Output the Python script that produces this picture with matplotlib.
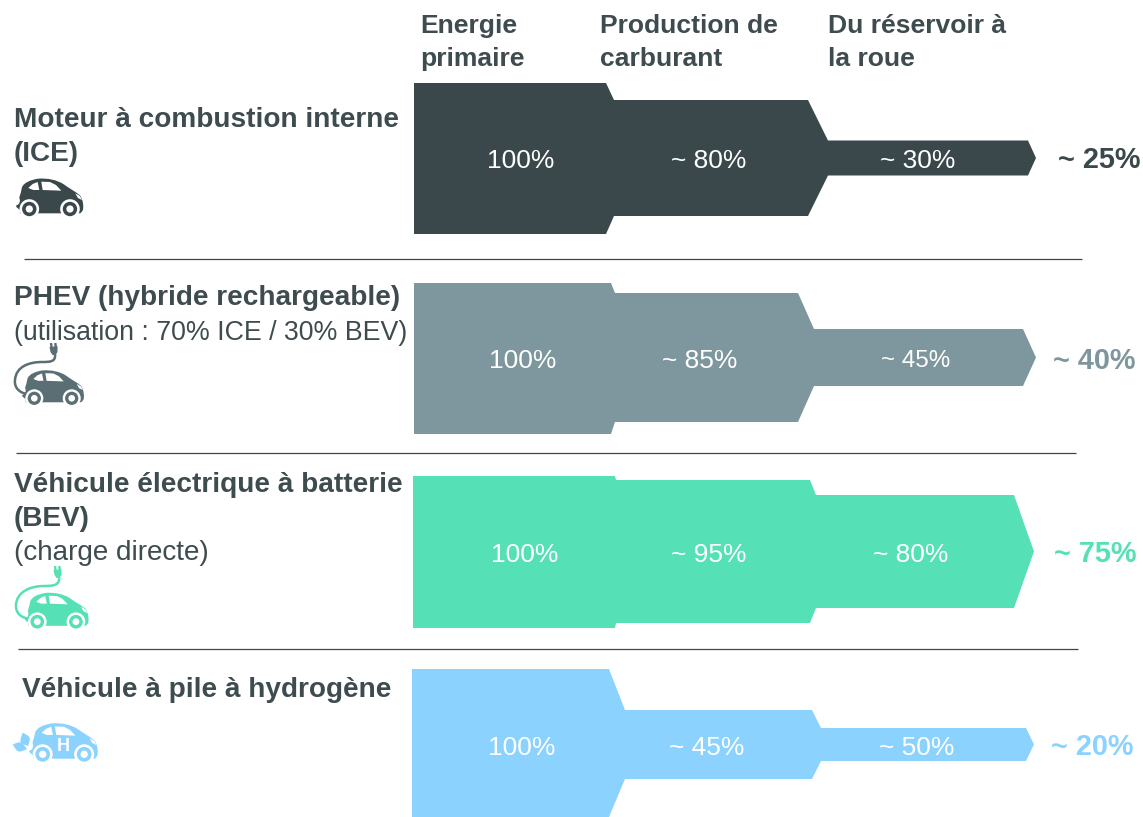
import matplotlib
matplotlib.use("Agg")
import matplotlib.pyplot as plt
from matplotlib.path import Path
from matplotlib.patches import PathPatch, Polygon, Circle

plt.rcParams['font.family'] = ['Liberation Sans', 'DejaVu Sans']

# ---- data ----
stages = ["Energie\nprimaire", "Production de\ncarburant", "Du réservoir à\nla roue"]
primary_labels = ["100%", "100%", "100%", "100%"]
fuel_labels = ["~ 80%", "~ 85%", "~ 95%", "~ 45%"]
tank_labels = ["~ 30%", "~ 45%", "~ 80%", "~ 50%"]
total_labels = ["~ 25%", "~ 40%", "~ 75%", "~ 20%"]
colors = ["#3A484B", "#7E979E", "#56E0B5", "#8CD2FF"]

# drawn band heights of each stage, as fractions of the first stage
fuel_share = [116 / 151, 129 / 151, 143 / 152, 69 / 148]
tank_share = [35 / 151, 57 / 151, 113 / 152, 33 / 148]

# ---- layout (pixels) ----
W, H = 1143, 817
fig = plt.figure(figsize=(W / 100, H / 100), dpi=100)
ax = fig.add_axes([0, 0, 1, 1])
ax.set_xlim(0, W)
ax.set_ylim(H, 0)
ax.axis("off")

tops = [83, 283, 476, 669]
bottoms = [234, 434, 628, 817]
x_start = [414, 414, 413, 412]
x1a = [606, 611, 615, 609]
x1b = [614, 615, 616, 625]
x2a = [808, 798, 810, 812]
x2b = [828, 814, 816, 821]
x3a = [1028, 1023, 1014, 1026]
x3b = [1036, 1036, 1034, 1034]
fuel_c = [158, 357.5, 551.5, 744.5]

for i, c in enumerate(colors):
    t, b = tops[i], bottoms[i]
    full = b - t
    h1 = fuel_share[i] * full
    h2 = tank_share[i] * full
    m = fuel_c[i]
    pts = [(x_start[i], t), (x1a[i], t), (x1b[i], m - h1 / 2), (x2a[i], m - h1 / 2),
           (x2b[i], m - h2 / 2), (x3a[i], m - h2 / 2), (x3b[i], m),
           (x3a[i], m + h2 / 2), (x2b[i], m + h2 / 2), (x2a[i], m + h1 / 2),
           (x1b[i], m + h1 / 2), (x1a[i], b), (x_start[i], b)]
    ax.add_patch(Polygon(pts, closed=True, facecolor=c, edgecolor="none"))

# separators
for x0, x1, y in [(24, 1082, 259), (16, 1076, 453), (18, 1078, 649)]:
    ax.plot([x0, x1], [y, y], color="#3A484B", lw=0.9, solid_capstyle="butt")

# headers
DARK = "#3F4C4F"
for x, s in zip([420, 600, 828], stages):
    a, b = s.split("\n")
    ax.text(x, 33, a, fontsize=19.05, fontweight="bold", color=DARK, va="baseline")
    ax.text(x, 66, b, fontsize=19.05, fontweight="bold", color=DARK, va="baseline")

# row titles
FS = 20.15
def bold(x, y, s, **k):
    ax.text(x, y, s, fontsize=FS, fontweight="bold", color=DARK, va="baseline", **k)
def plain(x, y, s, fs=FS):
    ax.text(x, y, s, fontsize=fs, color=DARK, va="baseline")

bold(14, 127, "Moteur à combustion interne")
bold(14, 161, "(ICE)")
bold(14, 305, "PHEV (hybride rechargeable)")
plain(14, 340, "(utilisation : 70% ICE / 30% BEV)", 19.3)
bold(14, 492, "Véhicule électrique à batterie")
bold(14, 526, "(BEV)")
plain(14, 560, "(charge directe)", 20.1)
bold(22, 697, "Véhicule à pile à hydrogène")

# values inside the flows
lab_kw = dict(color="white", ha="center", va="baseline")
p_x = [521, 523, 525, 522]
p_y = [168, 368, 562, 755]
f_x = [709, 699.5, 709, 706.5]
t_x = [918, 915.5, 910.5, 916.5]
t_y = [168, 367, 562, 755]
for i in range(4):
    ax.text(p_x[i], p_y[i], primary_labels[i], fontsize=19, **lab_kw)
    ax.text(f_x[i], p_y[i], fuel_labels[i], fontsize=19, **lab_kw)
    ax.text(t_x[i], t_y[i], tank_labels[i], fontsize=17.4 if i == 1 else 19, **lab_kw)

# totals
tot_x = [1099.5, 1094.5, 1095, 1092]
tot_y = [168, 369, 562, 755]
tot_col = ["#3A484B", "#7E979E", "#56E0B5", "#8CD2FF"]
for i in range(4):
    ax.text(tot_x[i], tot_y[i], total_labels[i], fontsize=20.8, fontweight="bold",
            color=tot_col[i], ha="center", va="baseline")


# ---- car icons (outline units: zoomed pixels, origin on the rear wheel) ----
def car(ox, oy, s, col, letter=None):
    def P(x, y):
        return (ox + (x - 88) * s / 3, oy + (y - 117) * s / 3)
    M, C, L = Path.MOVETO, Path.CURVE4, Path.LINETO
    verts = [P(48, 107), P(54, 104), P(58, 100), P(60, 92), P(58, 82), P(62, 70), P(66, 52),
             P(72, 38), P(90, 30), P(115, 26), P(145, 24), P(170, 30), P(190, 42), P(208, 55),
             P(225, 64), P(240, 76), P(250, 90), P(252, 112), P(248, 122), P(243, 128),
             P(240, 130), P(150, 130), P(60, 130), P(60, 120), P(50, 112), P(48, 107)]
    codes = [M, L, L, L, L, L, L, C, C, C, C, C, C, C, C, C, C, C, C, L, L, L, L, L, L, L]
    ax.add_patch(PathPatch(Path(verts, codes), facecolor=col, edgecolor="none", zorder=3))
    # windows
    w1 = [P(85, 54), P(98, 42), P(113, 36), P(118, 60), P(100, 60)]
    w2 = [P(124, 35), P(150, 36), P(168, 45), P(184, 62), P(128, 60)]
    light = [P(226, 70), P(240, 78), P(246, 90), P(234, 84)]
    for poly in (w1, w2, light):
        ax.add_patch(Polygon(poly, closed=True, facecolor="white", edgecolor="none", zorder=4))
    # wheels
    for wx in (88, 210):
        cx, cy = P(wx, 117)
        ax.add_patch(Circle((cx, cy), 9.8 * s, facecolor="white", edgecolor="none", zorder=4))
        ax.add_patch(Circle((cx, cy), 7.2 * s, facecolor=col, edgecolor="none", zorder=5))
        ax.add_patch(Circle((cx, cy), 3.6 * s, facecolor="white", edgecolor="none", zorder=6))
    if letter:
        cx, cy = P(148, 95.5)
        ax.text(cx, cy, letter, fontsize=13, fontweight="bold", color="white",
                ha="center", va="center", zorder=7)


def cable(pts, col):
    codes = [Path.MOVETO] + [Path.CURVE4] * (len(pts) - 1)
    ax.add_patch(PathPatch(Path(pts, codes), facecolor="none", edgecolor=col, lw=1.8, zorder=2))


def plug(x, y, col):
    ax.add_patch(Polygon([(x - 4.5, y - 3), (x + 3.5, y - 4), (x + 3.5, y + 2), (x + 1.5, y + 5),
                          (x - 1.5, y + 5), (x - 3.5, y + 2)], closed=True,
                         facecolor=col, edgecolor="none", zorder=3))
    for dx in (-2.5, 1.8):
        ax.plot([x + dx, x + dx - 0.5], [y - 3, y - 7], color=col, lw=1.7, zorder=3,
                solid_capstyle="butt")


c0, c1, c2, c3 = colors
car(29.3, 209, 1.0, c0)
car(34.3, 398.3, 0.92, "#5A6E73")
car(37.3, 621.7, 0.95, c2)
car(42.7, 754.3, 1.02, c3, "H")

cable([(55, 354), (56, 362), (50, 362), (42, 362), (30, 362), (16, 366), (15, 380),
       (14, 388), (20, 393), (27, 394)], "#5A6E73")
plug(54, 350, "#5A6E73")
cable([(59, 577), (60, 585), (54, 586), (44, 586), (30, 586), (16, 592), (16, 606),
       (16, 614), (22, 618), (30, 619)], c2)
plug(58, 573, c2)


# leaves
def leaf(tip, base, ctrl1, ctrl2):
    verts = [tip, ctrl1, ctrl1, base, ctrl2, ctrl2, tip]
    codes = [Path.MOVETO] + [Path.CURVE4] * 6
    ax.add_patch(PathPatch(Path(verts, codes), facecolor=c3, edgecolor="none", zorder=3))


leaf((22.7, 732.7), (28, 746), (31, 737), (19, 743))
leaf((12.7, 744.5), (27, 749), (21, 741), (18, 753))

fig.savefig("out.png", dpi=100, facecolor="white")
